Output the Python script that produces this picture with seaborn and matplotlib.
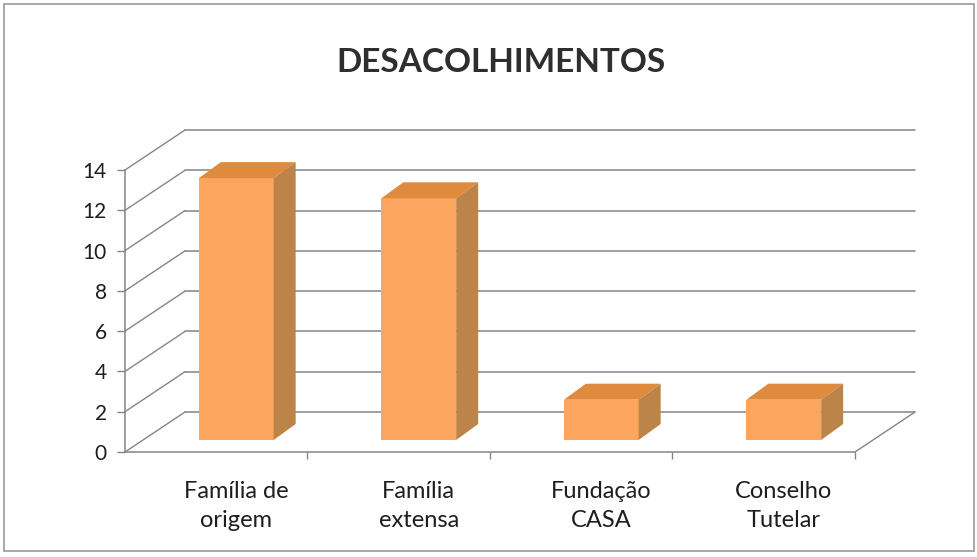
import numpy as np
import pandas as pd
import seaborn as sns
import matplotlib.pyplot as plt
from matplotlib.patches import Polygon, Rectangle
from matplotlib.lines import Line2D
from matplotlib.transforms import ScaledTranslation

# ============================== DATA ==============================
categories = ["Família de\norigem", "Família\nextensa", "Fundação\nCASA", "Conselho\nTutelar"]
values = [13, 12, 2, 2]
y_ticks = [0, 2, 4, 6, 8, 10, 12, 14]
title = "DESACOLHIMENTOS"

df = pd.DataFrame({"Categoria": categories, "Valor": values})

# ============================== STYLE ==============================
sns.set_theme(style="white")
plt.rcParams['font.family'] = ['Lato', 'DejaVu Sans']

FRONT = "#FCA55E"
TOP = "#E08A3E"
SIDE = "#BC8448"
GRID = "#858585"

DX, DY = 0.60, 0.40       # depth of the "3D" box, inches
BX, BY = 0.20, 0.12       # bars sit slightly behind the front plane
BDX, BDY = 0.22, 0.16     # bar depth

fig = plt.figure(figsize=(9.78, 5.57), dpi=100)
ax = fig.add_axes([125 / 978, 105 / 557, 730 / 978, 282 / 557])
ax.set_ylim(0, 14)
ax.set_xlim(-0.5, 3.5)

back = ax.transData + ScaledTranslation(DX, DY, fig.dpi_scale_trans)
bar_tr = ax.transData + ScaledTranslation(BX, BY, fig.dpi_scale_trans)

# back wall grid lines + diagonal side lines
for v in y_ticks:
    ax.plot([-0.5, 3.5], [v, v], transform=back, color=GRID, lw=1.1, clip_on=False, zorder=1)
    p0 = ax.transData.transform((-0.5, v))
    ax.add_line(Line2D([p0[0], p0[0] + DX * 100], [p0[1], p0[1] + DY * 100],
                       transform=None, color=GRID, lw=1.0, zorder=1, clip_on=False))
# floor right edge
p1 = ax.transData.transform((3.5, 0))
ax.add_line(Line2D([p1[0], p1[0] + DX * 100], [p1[1], p1[1] + DY * 100],
                   transform=None, color=GRID, lw=1.0, zorder=1, clip_on=False))

g = sns.barplot(data=df, x="Categoria", y="Valor", color=FRONT, width=0.41,
                saturation=1, ax=ax, zorder=3)

for patch in g.patches:
    patch.set_transform(bar_tr)
    patch.set_clip_on(False)
    patch.set_edgecolor("none")
    x0, w, h = patch.get_x(), patch.get_width(), patch.get_height()
    br = bar_tr.transform((x0 + w, 0))
    tl = bar_tr.transform((x0, h))
    tr = bar_tr.transform((x0 + w, h))
    d = np.array([BDX * 100, BDY * 100])
    top = Polygon([tl, tr, tr + d, tl + d], closed=True, transform=None,
                  facecolor=TOP, edgecolor="none", zorder=3, clip_on=False)
    side = Polygon([br, br + d, tr + d, tr], closed=True, transform=None,
                   facecolor=SIDE, edgecolor="none", zorder=3, clip_on=False)
    ax.add_patch(top)
    ax.add_patch(side)

# axes styling
for s in ["top", "right"]:
    ax.spines[s].set_visible(False)
for s in ["left", "bottom"]:
    ax.spines[s].set_color(GRID)
    ax.spines[s].set_linewidth(1.1)

ax.set_yticks(y_ticks)
ax.set_yticklabels([str(v) for v in y_ticks])
ax.tick_params(axis="y", length=6, width=1, color=GRID, left=True, labelsize=15,
               labelcolor="#1e1e1e", pad=7)
ax.set_xticks(range(len(categories)))
ax.set_xticklabels(categories)
ax.set_xticks([0.5, 1.5, 2.5, 3.5], minor=True)
ax.tick_params(axis="x", which="major", length=0, labelsize=17, labelcolor="#1e1e1e", pad=21)
ax.tick_params(axis="x", which="minor", length=5, width=1, color=GRID, bottom=True)
for lab in ax.get_xticklabels():
    lab.set_transform(lab.get_transform() + ScaledTranslation(BX, 0, fig.dpi_scale_trans))
    lab.set_linespacing(1.45)
ax.set_xlabel("")
ax.set_ylabel("")
ax.grid(False)

fig.text(0.512, 0.888, title, ha="center", va="center", fontsize=24,
         fontweight="bold", color="#2e2e2e")

fig.patches.append(Rectangle((0.004, 0.01), 0.992, 0.982, transform=fig.transFigure,
                             fill=False, edgecolor="#9a9a9a", lw=1.2))

fig.savefig("out.png", dpi=100, facecolor="white")
